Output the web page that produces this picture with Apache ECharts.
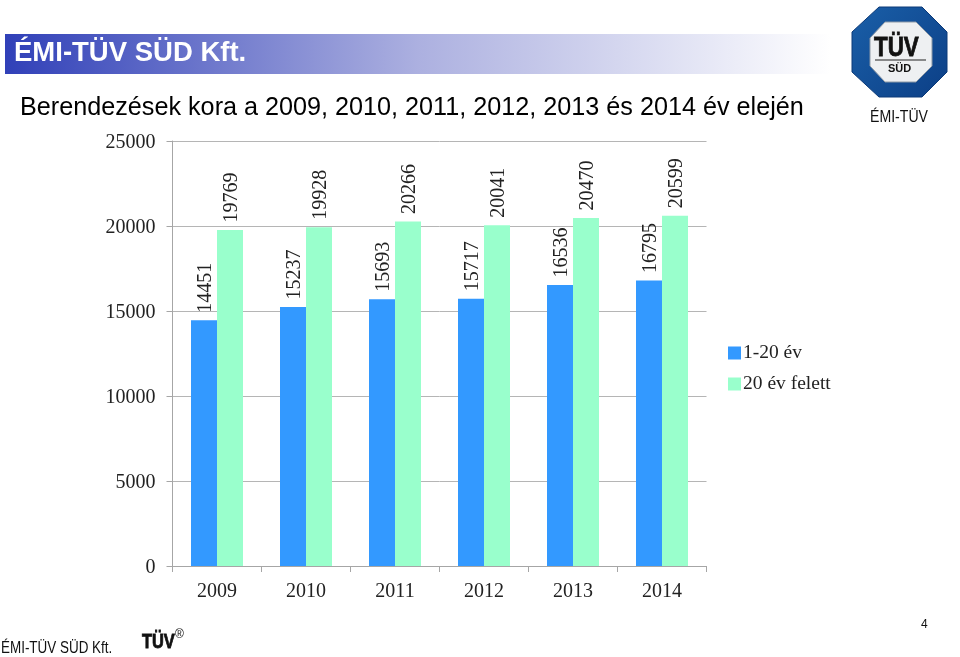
<!DOCTYPE html>
<html><head><meta charset="utf-8">
<style>html,body{margin:0;padding:0;background:#fff}#c{width:960px;height:657px}</style>
<script src="https://cdn.jsdelivr.net/npm/echarts@6/dist/echarts.min.js"></script></head>
<body><div id="c"></div>
<script>
const categories = ['2009','2010','2011','2012','2013','2014'];
const young = [14451,15237,15693,15717,16536,16795];
const old = [19769,19928,20266,20041,20470,20599];
const serif = '"Liberation Serif"';
const sans = '"Liberation Sans"';
const chart = echarts.init(document.getElementById('c'));
const lab = {show:true,position:'top',rotate:90,distance:7.5,offset:[0,2],align:'left',verticalAlign:'middle',fontFamily:serif,fontSize:20,color:'#222'};
function text(x,y,t,size,color,bold,sx,sw){return {type:'text',x:x,y:y,scaleX:sx||1,z:5,style:{text:t,fontFamily:sans,fontSize:size,fill:color,fontWeight:bold?'bold':'normal',textVerticalAlign:'middle',stroke:sw?color:'none',lineWidth:sw||0}};}
chart.setOption({
  animation:false,
  backgroundColor:'#fff',
  grid:{left:172.5,right:253.5,top:141,bottom:91,containLabel:false},
  legend:{left:723,top:338,orient:'vertical',itemWidth:13,itemHeight:13,itemGap:11,icon:'rect',
    textStyle:{fontFamily:serif,fontSize:19.5,color:'#222',padding:[0,0,0,-3]},
    data:['1-20 év','20 év felett']},
  xAxis:{type:'category',data:categories,
    axisLine:{lineStyle:{color:'#a6a6a6',width:1}},
    axisTick:{show:true,length:6,lineStyle:{color:'#a6a6a6'}},
    axisLabel:{fontFamily:serif,fontSize:20,color:'#222',margin:16}},
  yAxis:{type:'value',min:0,max:25000,interval:5000,
    axisLine:{show:true,lineStyle:{color:'#a6a6a6',width:1}},
    axisTick:{show:true,length:6,lineStyle:{color:'#a6a6a6'}},
    splitLine:{lineStyle:{color:'#b5b5b5',width:1}},
    axisLabel:{margin:17,formatter:function(v){return '{t|'+v+'}';},
      rich:{t:{fontFamily:serif,fontSize:20,color:'#222',padding:[4,0,0,0]}}}},
  series:[
    {name:'1-20 év',type:'bar',data:young,barWidth:26,barGap:'0%',itemStyle:{color:'#3399ff'},label:lab},
    {name:'20 év felett',type:'bar',data:old,barWidth:26,itemStyle:{color:'#99ffcc'},label:lab}
  ],
  graphic:[
    {type:'rect',z:1,shape:{x:5,y:34,width:826,height:40},style:{fill:new echarts.graphic.LinearGradient(0,0,1,0,[{offset:0,color:'#3040b8'},{offset:0.5,color:'#acb0e0'},{offset:1,color:'#ffffff'}])}},
    text(14,53,'ÉMI-TÜV SÜD Kft.',27.5,'#fff',true),
    text(20,108,'Berendezések kora a 2009, 2010, 2011, 2012, 2013 és 2014 év elején',25.2,'#000'),
    {type:'polygon',z:2,shape:{points:[[879,7],[922,7],[947,32],[947,72],[922,97],[879,97],[852,72],[852,32]]},
      style:{fill:new echarts.graphic.LinearGradient(0,0,1,1,[{offset:0,color:'#1a5fa8'},{offset:1,color:'#0c3f86'}]),stroke:'#0c3a78',lineWidth:1}},
    {type:'polygon',z:3,shape:{points:[[885,22],[916,22],[932,38],[932,66],[916,82],[885,82],[870,66],[870,38]]},
      style:{fill:'#eef0f2',stroke:'#8d99a6',lineWidth:1}},
    text(874,49,'TÜV',27,'#111',true,0.83,0.8),
    {type:'line',z:5,shape:{x1:875,y1:60,x2:926,y2:60},style:{stroke:'#222',lineWidth:1}},
    text(888,69,'SÜD',11,'#111',true),
    text(870,117,'ÉMI-TÜV',17,'#111',false,0.83),
    text(1,649,'ÉMI-TÜV SÜD Kft.',16,'#111',false,0.84),
    text(142,642,'TÜV',20,'#111',true,0.82,0.8),
    text(175,635,'®',12,'#111'),
    text(921,625,'4',12,'#111')
  ]
});
</script></body></html>
